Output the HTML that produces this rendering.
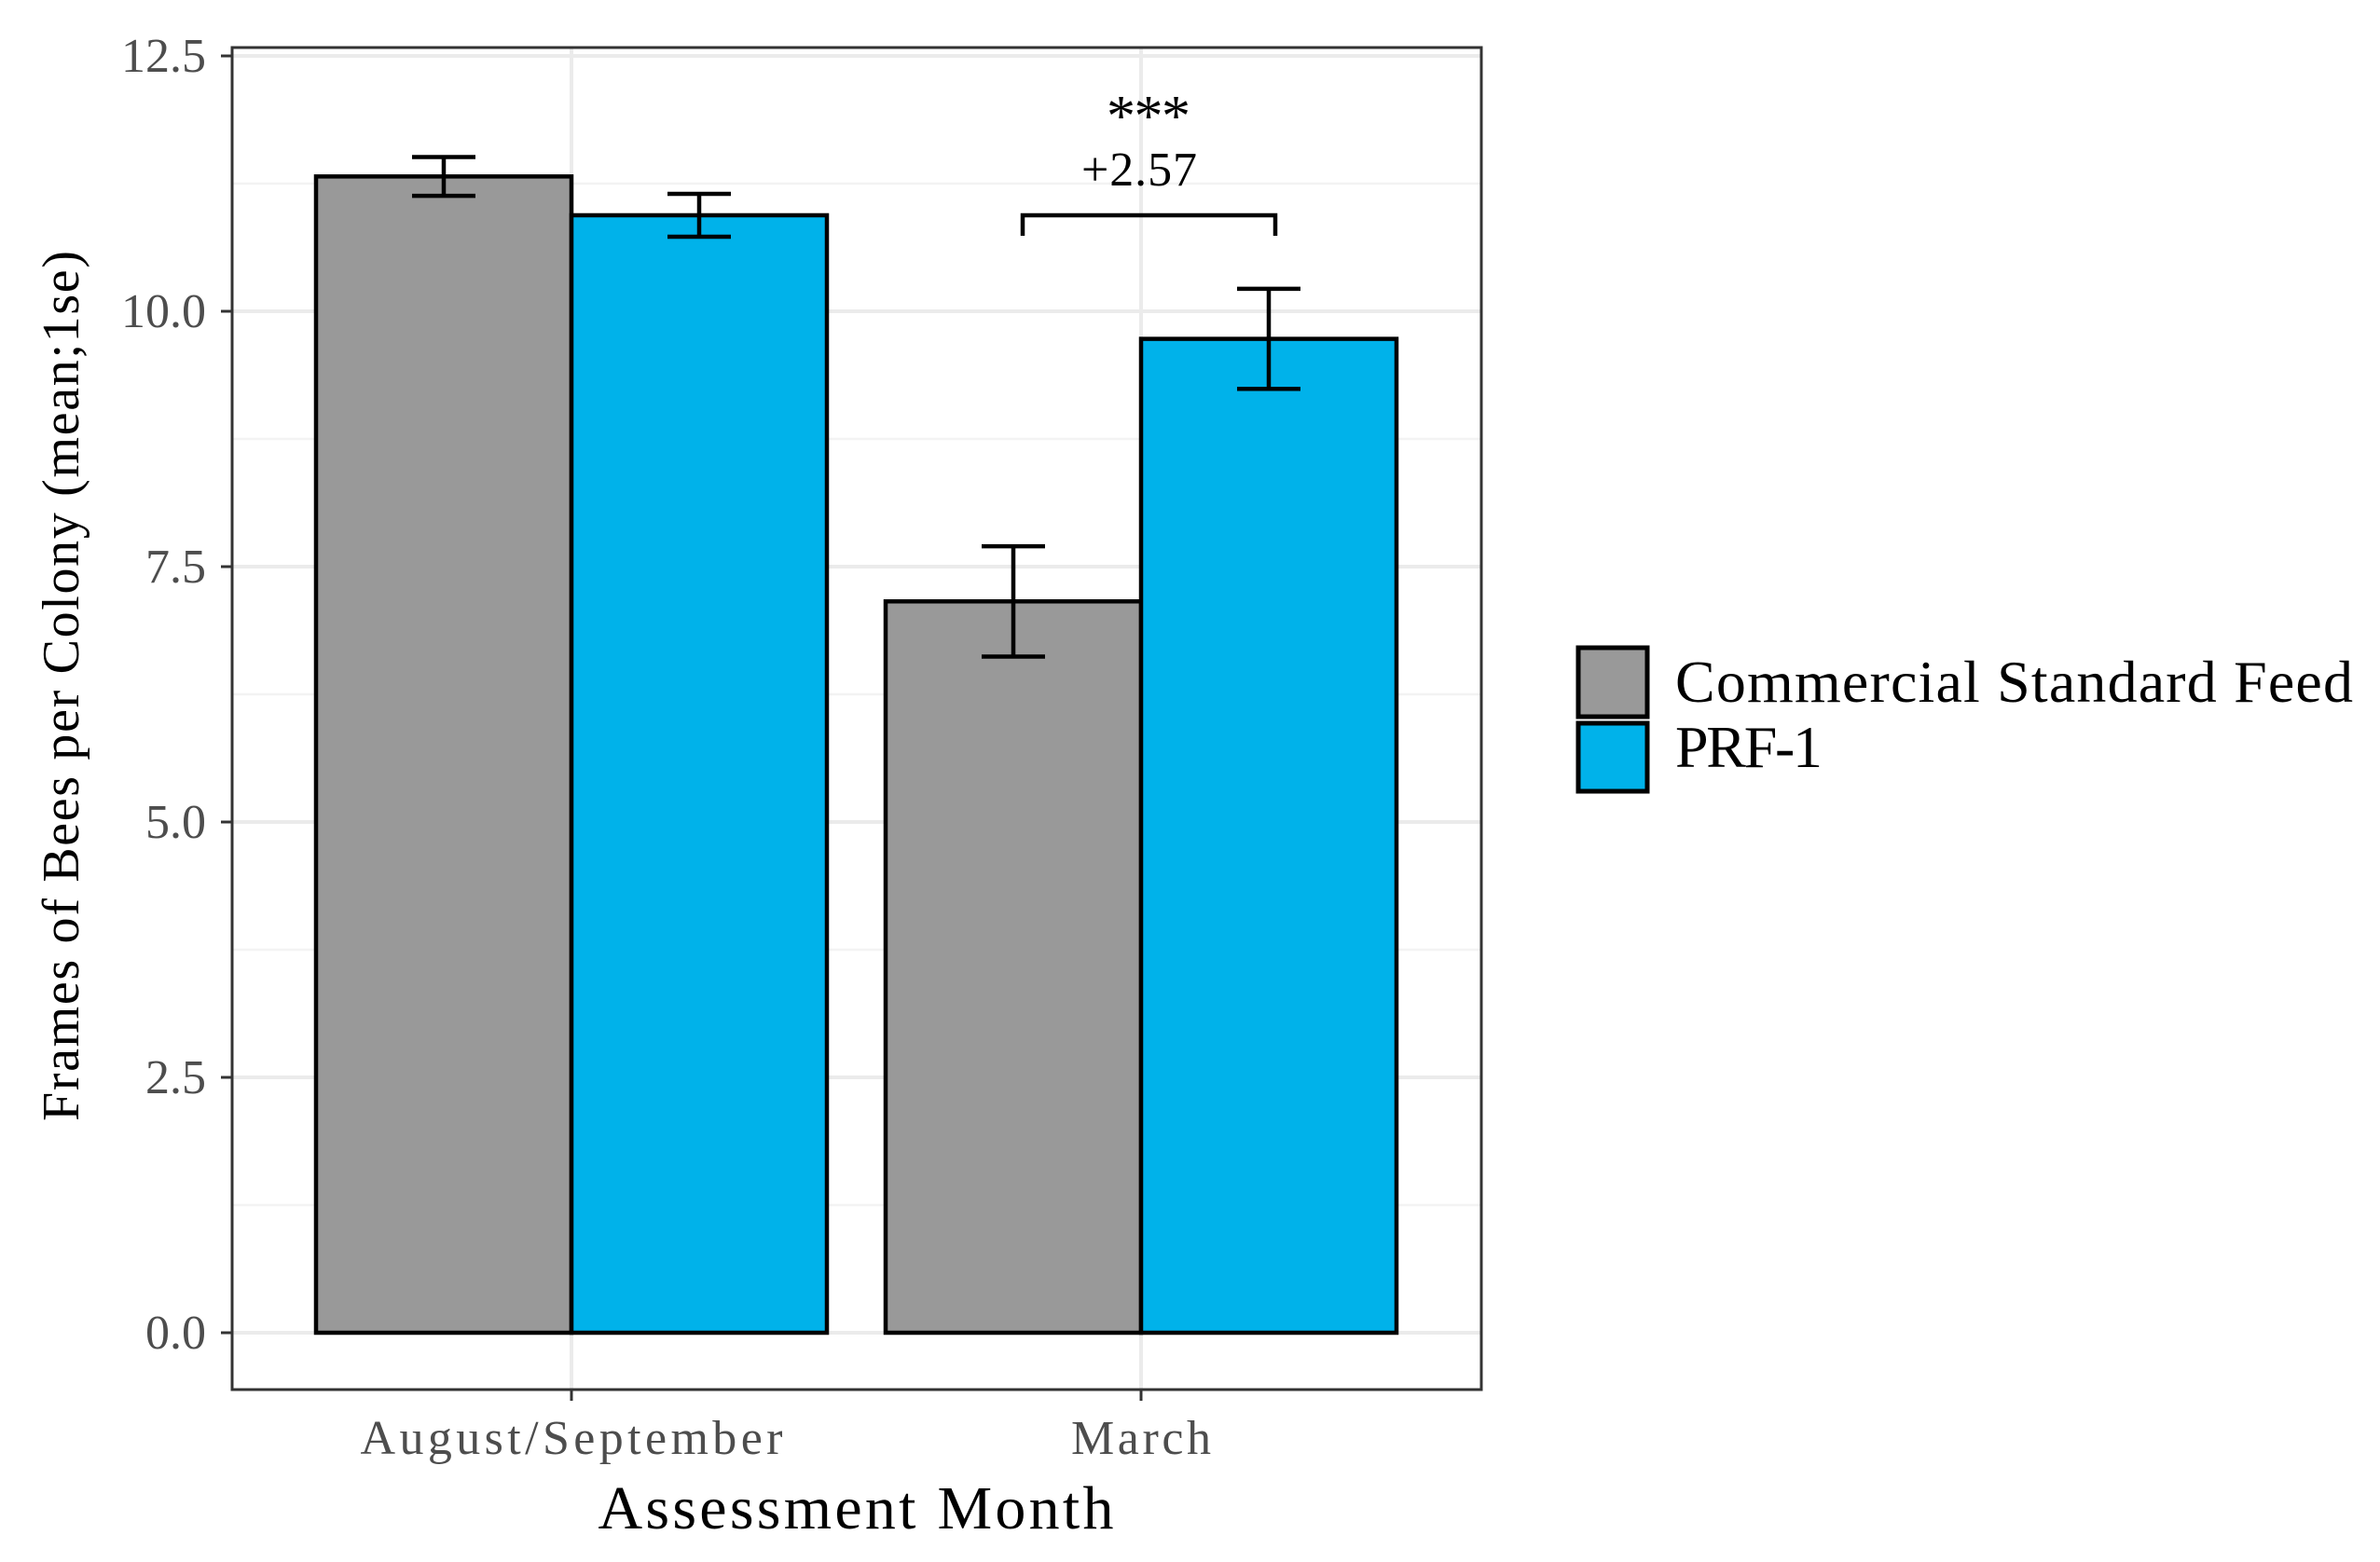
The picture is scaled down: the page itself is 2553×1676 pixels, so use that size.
<!DOCTYPE html>
<html><head><meta charset="utf-8"><style>html,body{margin:0;padding:0;background:#fff}svg{display:block}</style></head>
<body>
<svg id="chart" width="2553" height="1676" viewBox="0 0 2553 1676" xmlns="http://www.w3.org/2000/svg" font-family="'Liberation Serif', serif">
<g id="grid"></g>
<g id="bars"></g>
<g id="axes"></g>
<g>
<path d="M1097 253 V231 H1368 V253" fill="none" stroke="#000" stroke-width="4.5"/>
<text x="1232" y="145" font-size="62" text-anchor="middle" textLength="90">***</text>
<text x="1222" y="199" font-size="52" text-anchor="middle" textLength="124">+2.57</text>
</g>
<text x="918" y="1640" font-size="66" text-anchor="middle" textLength="553">Assessment Month</text>
<text transform="translate(84,736) rotate(-90)" font-size="56" text-anchor="middle" textLength="934">Frames of Bees per Colony (mean;1se)</text>
<g>
<rect x="1693" y="695" width="74" height="74" fill="#999999" stroke="#000" stroke-width="5"/>
<rect x="1693" y="776" width="74" height="73" fill="#00b2ea" stroke="#000" stroke-width="5"/>
<text x="1797" y="753" font-size="64" textLength="727">Commercial Standard Feed</text>
<text x="1797" y="823" font-size="64" textLength="158">PRF-1</text>
</g>
</svg>
<script>
const categories = ["August/September", "March"];
const seriesNames = ["Commercial Standard Feed", "PRF-1"];
const commercialMeans = [11.32, 7.16];
const commercialSE = [0.19, 0.54];
const prfMeans = [10.94, 9.73];
const prfSE = [0.21, 0.49];
const yTicks = [0, 2.5, 5, 7.5, 10, 12.5];
const yTickLabels = ["0.0", "2.5", "5.0", "7.5", "10.0", "12.5"];

const NS = "http://www.w3.org/2000/svg";
const P = {l:249, r:1589, t:51, b:1491};
const y = v => 1430 - v * 109.6;
const xCenter = i => 613 + i * 611;
const barW = 274;
const colors = ["#999999", "#00b2ea"];
const xLabelWidths = [453, 150];
function mk(tag, attrs, parent){const e=document.createElementNS(NS,tag);for(const k in attrs)e.setAttribute(k,attrs[k]);parent.appendChild(e);return e;}
const grid = document.getElementById('grid'), bars = document.getElementById('bars'), axes = document.getElementById('axes');

const bg = mk('rect',{x:P.l,y:P.t,width:P.r-P.l,height:P.b-P.t,fill:'#fff'},grid);


for (let i=0;i<yTicks.length;i++){
  const g = mk('line',{x1:P.l,x2:P.r,y1:y(yTicks[i]),y2:y(yTicks[i]),stroke:'#ebebeb','stroke-width':4},grid);
  
  
  if (i<yTicks.length-1){
    const m = mk('line',{x1:P.l,x2:P.r,y1:y((yTicks[i]+yTicks[i+1])/2),y2:y((yTicks[i]+yTicks[i+1])/2),stroke:'#f3f3f3','stroke-width':2.5},grid);
    
    
  }
}
categories.forEach((c,i)=>{
  const g = mk('line',{x1:xCenter(i),x2:xCenter(i),y1:P.t,y2:P.b,stroke:'#ebebeb','stroke-width':4},grid);
  
  
});

const series = [[commercialMeans, commercialSE],[prfMeans, prfSE]];
series.forEach((s,si)=>{
  s[0].forEach((v,i)=>{
    const x0 = xCenter(i) + (si===0 ? -barW : 0);
    const r = mk('rect',{x:x0,y:y(v),width:barW,height:y(0)-y(v),fill:colors[si],stroke:'#000','stroke-width':4.5},bars);
    
    
  });
});
series.forEach((s,si)=>{
  s[0].forEach((v,i)=>{
    const cx = xCenter(i) + (si===0 ? -barW/2 : barW/2);
    const hi = y(v + s[1][i]), lo = y(v - s[1][i]);
    const e = mk('path',{d:`M${cx-34} ${hi} H${cx+34} M${cx} ${hi} V${lo} M${cx-34} ${lo} H${cx+34}`,fill:'none',stroke:'#000','stroke-width':4.5},bars);
    
    
  });
});

const frame = mk('rect',{x:P.l,y:P.t,width:P.r-P.l,height:P.b-P.t,fill:'none',stroke:'#333','stroke-width':3},axes);


yTicks.forEach((t,i)=>{
  const tk = mk('line',{x1:P.l-12,x2:P.l,y1:y(t),y2:y(t),stroke:'#333','stroke-width':3},axes);
  
  
  const lb = mk('text',{x:P.l-28,y:y(t)+17,'font-size':52,'text-anchor':'end',fill:'#4d4d4d'},axes);
  lb.textContent = yTickLabels[i];
  
  
});
categories.forEach((c,i)=>{
  const tk = mk('line',{x1:xCenter(i),x2:xCenter(i),y1:P.b,y2:P.b+12,stroke:'#333','stroke-width':3},axes);
  
  
  const lb = mk('text',{x:xCenter(i),y:1560,'font-size':52,'text-anchor':'middle',fill:'#4d4d4d',textLength:xLabelWidths[i]},axes);
  lb.textContent = c;
  
  
});
</script>
</body></html>
